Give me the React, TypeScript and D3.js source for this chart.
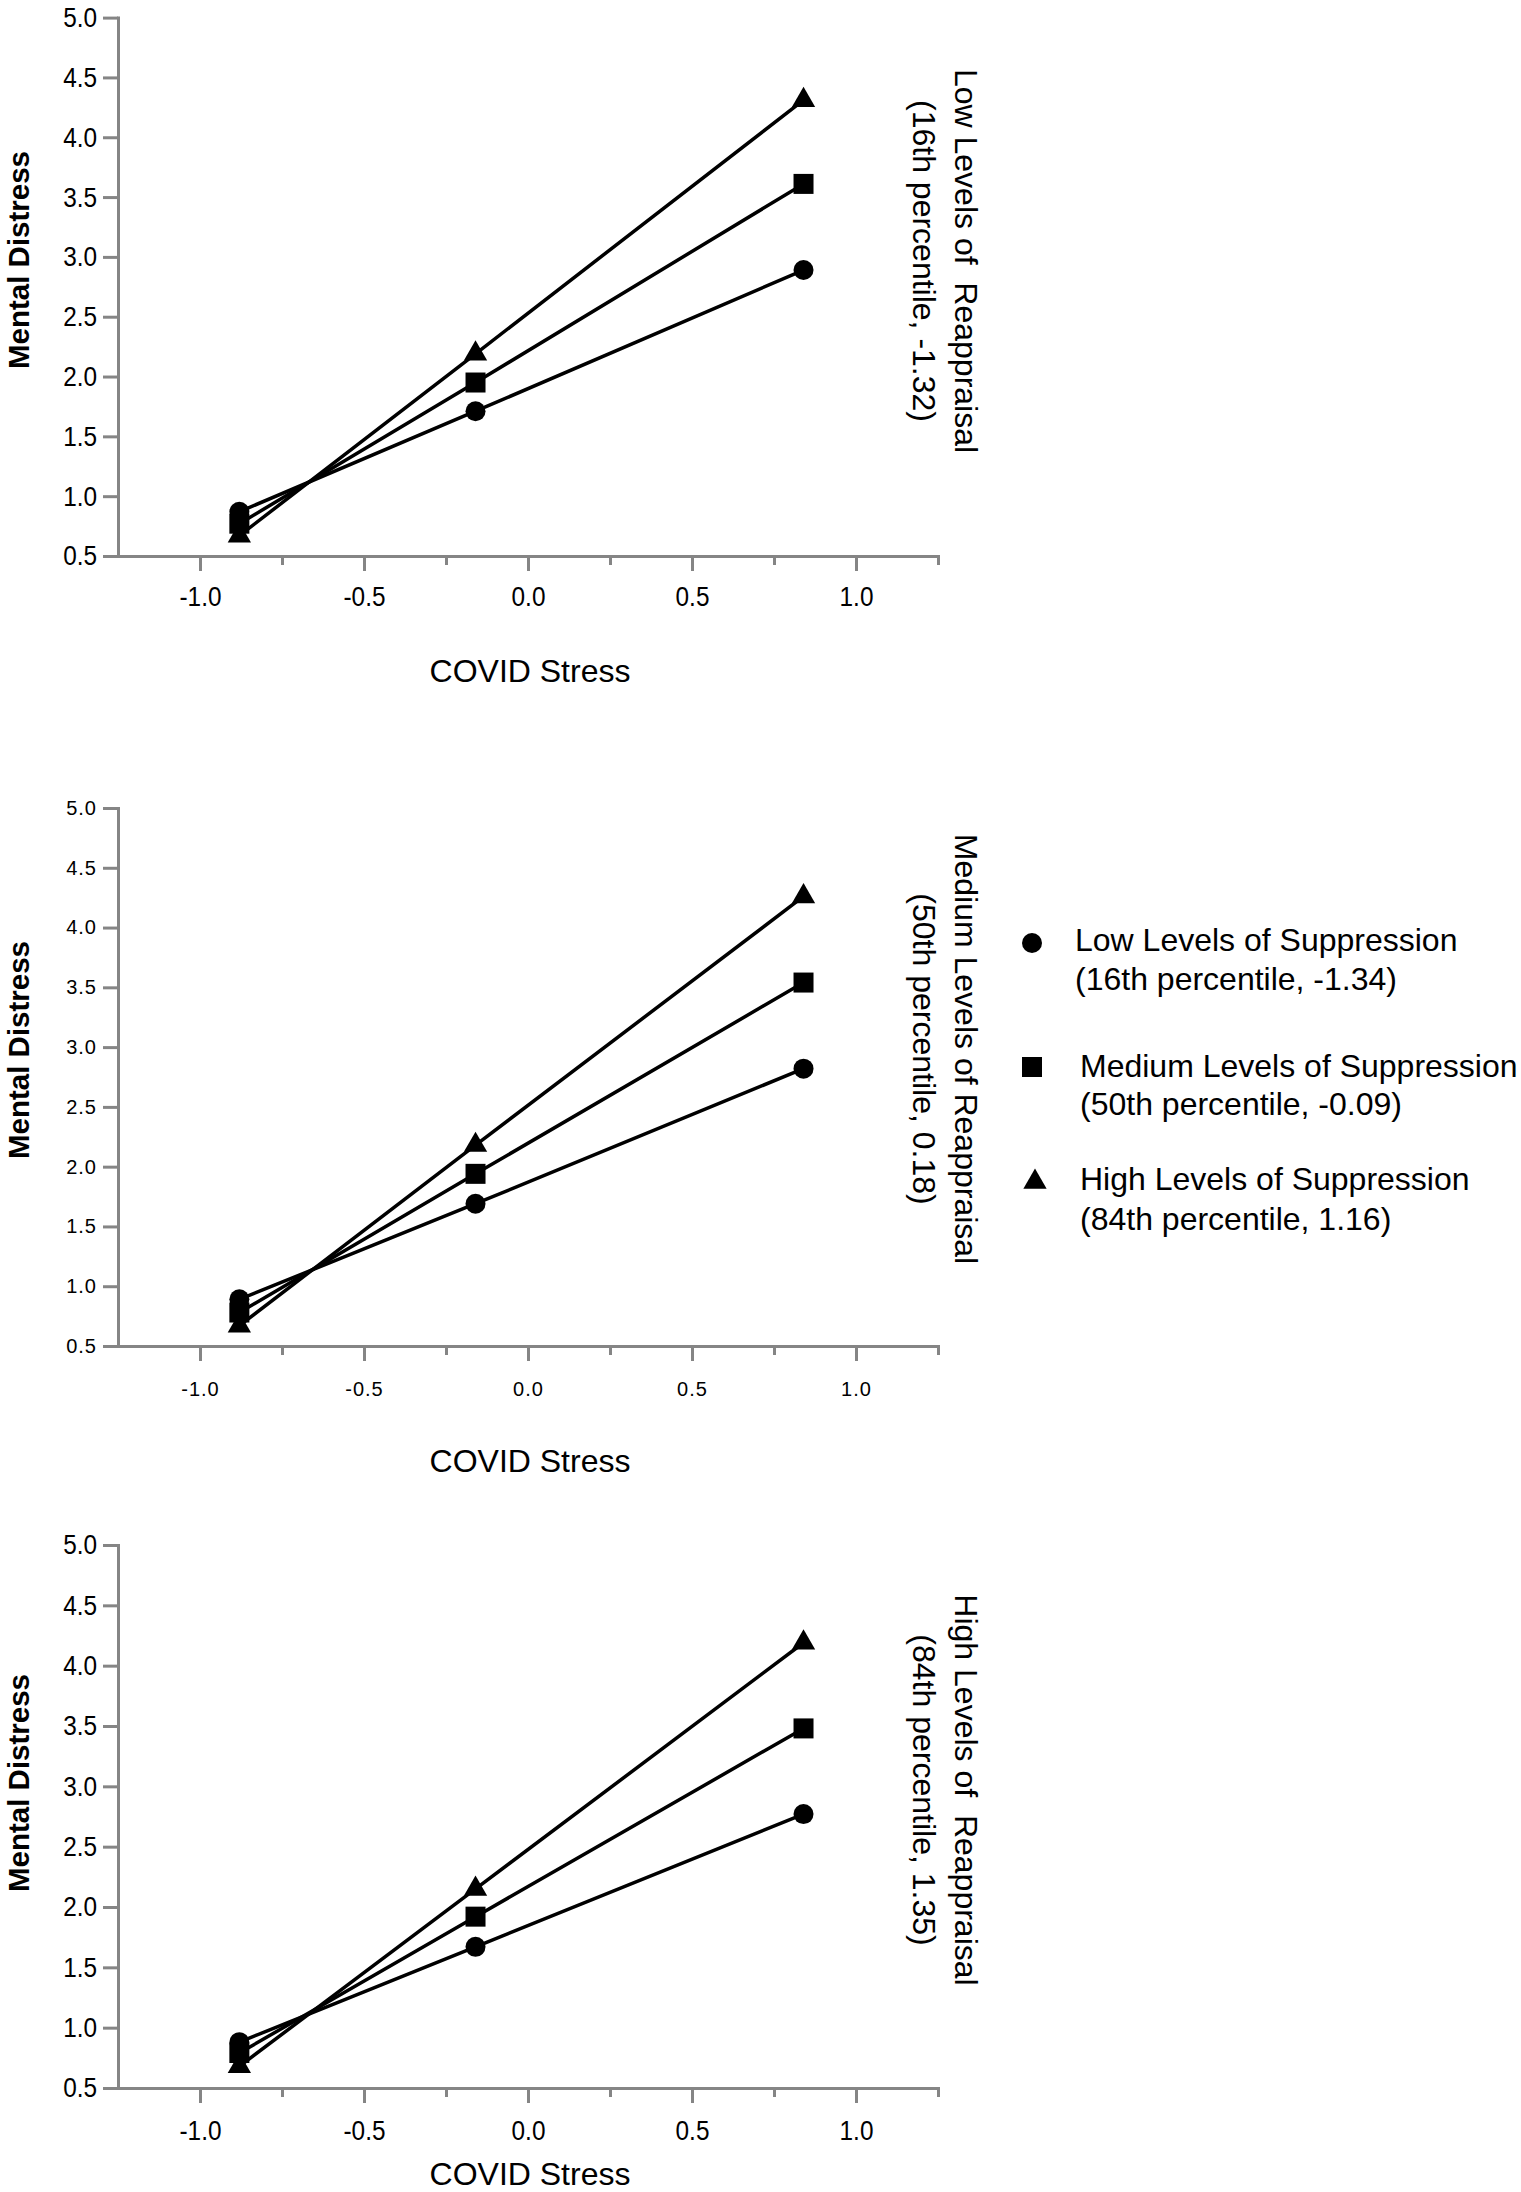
import { useEffect, useRef } from 'react';
import * as d3 from 'd3';

// COVID stress values where the simple slopes are evaluated
const covidStress = [-0.88, -0.16, 0.84];

// Mental distress, one array per reappraisal x suppression level
const lowReappLowSupp = [0.87, 1.71, 2.89];
const lowReappMedSupp = [0.77, 1.95, 3.61];
const lowReappHighSupp = [0.67, 2.19, 4.31];

const medReappLowSupp = [0.89, 1.69, 2.82];
const medReappMedSupp = [0.78, 1.94, 3.54];
const medReappHighSupp = [0.67, 2.18, 4.26];

const highReappLowSupp = [0.88, 1.67, 2.77];
const highReappMedSupp = [0.79, 1.92, 3.48];
const highReappHighSupp = [0.68, 2.15, 4.19];

const reappraisalTitles = [
  'Low Levels of  Reappraisal',
  'Medium Levels of Reappraisal',
  'High Levels of  Reappraisal',
];
const reappraisalSubs = [
  '(16th percentile, -1.32)',
  '(50th percentile, 0.18)',
  '(84th percentile, 1.35)',
];
const suppressionNames = [
  'Low Levels of Suppression',
  'Medium Levels of Suppression',
  'High Levels of Suppression',
];
const suppressionSubs = [
  '(16th percentile, -1.34)',
  '(50th percentile, -0.09)',
  '(84th percentile, 1.16)',
];

const yTicks = [0.5, 1.0, 1.5, 2.0, 2.5, 3.0, 3.5, 4.0, 4.5, 5.0];
const xMajorTicks = [-1.0, -0.5, 0.0, 0.5, 1.0];
const xMinorTicks = [-0.75, -0.25, 0.25, 0.75, 1.25];

const panelSeries = [
  [lowReappLowSupp, lowReappMedSupp, lowReappHighSupp],
  [medReappLowSupp, medReappMedSupp, medReappHighSupp],
  [highReappLowSupp, highReappMedSupp, highReappHighSupp],
];

// layout of the three stacked panels (pixels)
const layout = [
  { top: 17.6, bottom: 556, tickFont: 28, tickScale: 0.87, tickSpacing: 0, xTickBase: 606, xLabelBase: 682, leftCenter: 260, rightCenter: 261 },
  { top: 808, bottom: 1346, tickFont: 20, tickScale: 1, tickSpacing: 1, xTickBase: 1396, xLabelBase: 1472, leftCenter: 1050, rightCenter: 1049 },
  { top: 1545, bottom: 2088, tickFont: 28, tickScale: 0.87, tickSpacing: 0, xTickBase: 2140, xLabelBase: 2185, leftCenter: 1783, rightCenter: 1790 },
];

const FONT = "'Liberation Sans', Arial, sans-serif";
const AXIS_GREY = '#858585';
const WIDTH = 1521;
const HEIGHT = 2192;

const symbols = [
  d3.symbol().type(d3.symbolCircle).size(Math.PI * 100),
  d3.symbol().type(d3.symbolSquare).size(400),
  d3.symbol().type(d3.symbolTriangle).size(235),
];

export default function App() {
  const svgRef = useRef<SVGSVGElement>(null);

  useEffect(() => {
    if (!svgRef.current) return;
    const svg = d3.select(svgRef.current);
    svg.selectAll('*').remove();

    const x = d3.scaleLinear().domain([-1.25, 1.25]).range([118, 938]);

    layout.forEach((p, pi) => {
      const y = d3.scaleLinear().domain([0.5, 5.0]).range([p.bottom, p.top]);
      const g = svg.append('g');

      // Y axis
      const yAxis = g.append('g')
        .attr('transform', `translate(${x.range()[0]},0)`)
        .call(d3.axisLeft(y).tickValues(yTicks).tickSize(15).tickSizeOuter(0).tickPadding(6)
          .tickFormat(d => (+d).toFixed(1)));
      yAxis.select('.domain').attr('stroke', AXIS_GREY).attr('stroke-width', 3).attr('stroke-linecap', 'square');
      yAxis.selectAll('.tick line').attr('stroke', AXIS_GREY).attr('stroke-width', 3);
      yAxis.selectAll('.tick text')
        .attr('font-family', FONT)
        .attr('font-size', p.tickFont)
        .attr('letter-spacing', p.tickSpacing)
        .attr('fill', '#000')
        .attr('x', -21 / p.tickScale)
        .attr('transform', `scale(${p.tickScale},1)`);

      // X axis, major ticks with labels
      const xAxis = g.append('g')
        .attr('transform', `translate(0,${p.bottom})`)
        .call(d3.axisBottom(x).tickValues(xMajorTicks).tickSize(15).tickSizeOuter(0)
          .tickFormat(d => (+d).toFixed(1)));
      xAxis.select('.domain').attr('stroke', AXIS_GREY).attr('stroke-width', 3).attr('stroke-linecap', 'square');
      xAxis.selectAll('.tick line').attr('stroke', AXIS_GREY).attr('stroke-width', 3);
      xAxis.selectAll('.tick text')
        .attr('font-family', FONT)
        .attr('font-size', p.tickFont)
        .attr('letter-spacing', p.tickSpacing)
        .attr('fill', '#000')
        .attr('y', p.xTickBase - p.bottom)
        .attr('dy', 0)
        .attr('transform', `scale(${p.tickScale},1)`);

      // X axis minor ticks
      const xMinor = g.append('g')
        .attr('transform', `translate(0,${p.bottom})`)
        .call(d3.axisBottom(x).tickValues(xMinorTicks).tickSize(9).tickSizeOuter(0).tickFormat(() => ''));
      xMinor.select('.domain').remove();
      xMinor.selectAll('.tick line').attr('stroke', AXIS_GREY).attr('stroke-width', 3);

      // Axis titles
      g.append('text')
        .attr('x', (x.range()[0] + x.range()[1]) / 2 + 2)
        .attr('y', p.xLabelBase)
        .attr('text-anchor', 'middle')
        .attr('font-family', FONT)
        .attr('font-size', 32)
        .text('COVID Stress');

      g.append('text')
        .attr('transform', `translate(29,${p.leftCenter}) rotate(-90)`)
        .attr('text-anchor', 'middle')
        .attr('font-family', FONT)
        .attr('font-size', 29.5)
        .attr('font-weight', 'bold')
        .text('Mental Distress');

      // Panel title on the right, rotated
      g.append('text')
        .attr('transform', `translate(955,${p.rightCenter}) rotate(90)`)
        .attr('text-anchor', 'middle')
        .attr('font-family', FONT)
        .attr('font-size', 32)
        .style('white-space', 'pre')
        .text(reappraisalTitles[pi]);
      g.append('text')
        .attr('transform', `translate(913,${p.rightCenter}) rotate(90)`)
        .attr('text-anchor', 'middle')
        .attr('font-family', FONT)
        .attr('font-size', 32)
        .text(reappraisalSubs[pi]);

      // Lines
      const line = d3.line<number>()
        .x((_, i) => x(covidStress[i]))
        .y(d => y(d));
      panelSeries[pi].forEach(series => {
        g.append('path')
          .datum(series)
          .attr('d', line)
          .attr('fill', 'none')
          .attr('stroke', '#000')
          .attr('stroke-width', 3.5);
      });

      // Markers: triangle first, circle last so the circle sits on top
      [2, 1, 0].forEach(si => {
        g.selectAll(null)
          .data(panelSeries[pi][si])
          .join('path')
          .attr('transform', (d, i) => `translate(${x(covidStress[i])},${y(d)})`)
          .attr('d', symbols[si]())
          .attr('fill', '#000');
      });
    });

    // Legend
    const legend = svg.append('g');
    const legendRows = [
      { mx: 1032, my: 943, tx: 1075, b1: 951, b2: 990 },
      { mx: 1032, my: 1067, tx: 1080, b1: 1077, b2: 1115 },
      { mx: 1035, my: 1182, tx: 1080, b1: 1190, b2: 1230 },
    ];
    legendRows.forEach((r, i) => {
      legend.append('path')
        .attr('transform', `translate(${r.mx},${r.my})`)
        .attr('d', symbols[i]())
        .attr('fill', '#000');
      legend.append('text')
        .attr('x', r.tx)
        .attr('y', r.b1)
        .attr('font-family', FONT)
        .attr('font-size', 32)
        .text(suppressionNames[i]);
      legend.append('text')
        .attr('x', r.tx)
        .attr('y', r.b2)
        .attr('font-family', FONT)
        .attr('font-size', 32)
        .text(suppressionSubs[i]);
    });
  }, []);

  return (
    <svg
      ref={svgRef}
      width={WIDTH}
      height={HEIGHT}
      style={{ position: 'absolute', left: 0, top: 0, background: '#fff' }}
    />
  );
}
